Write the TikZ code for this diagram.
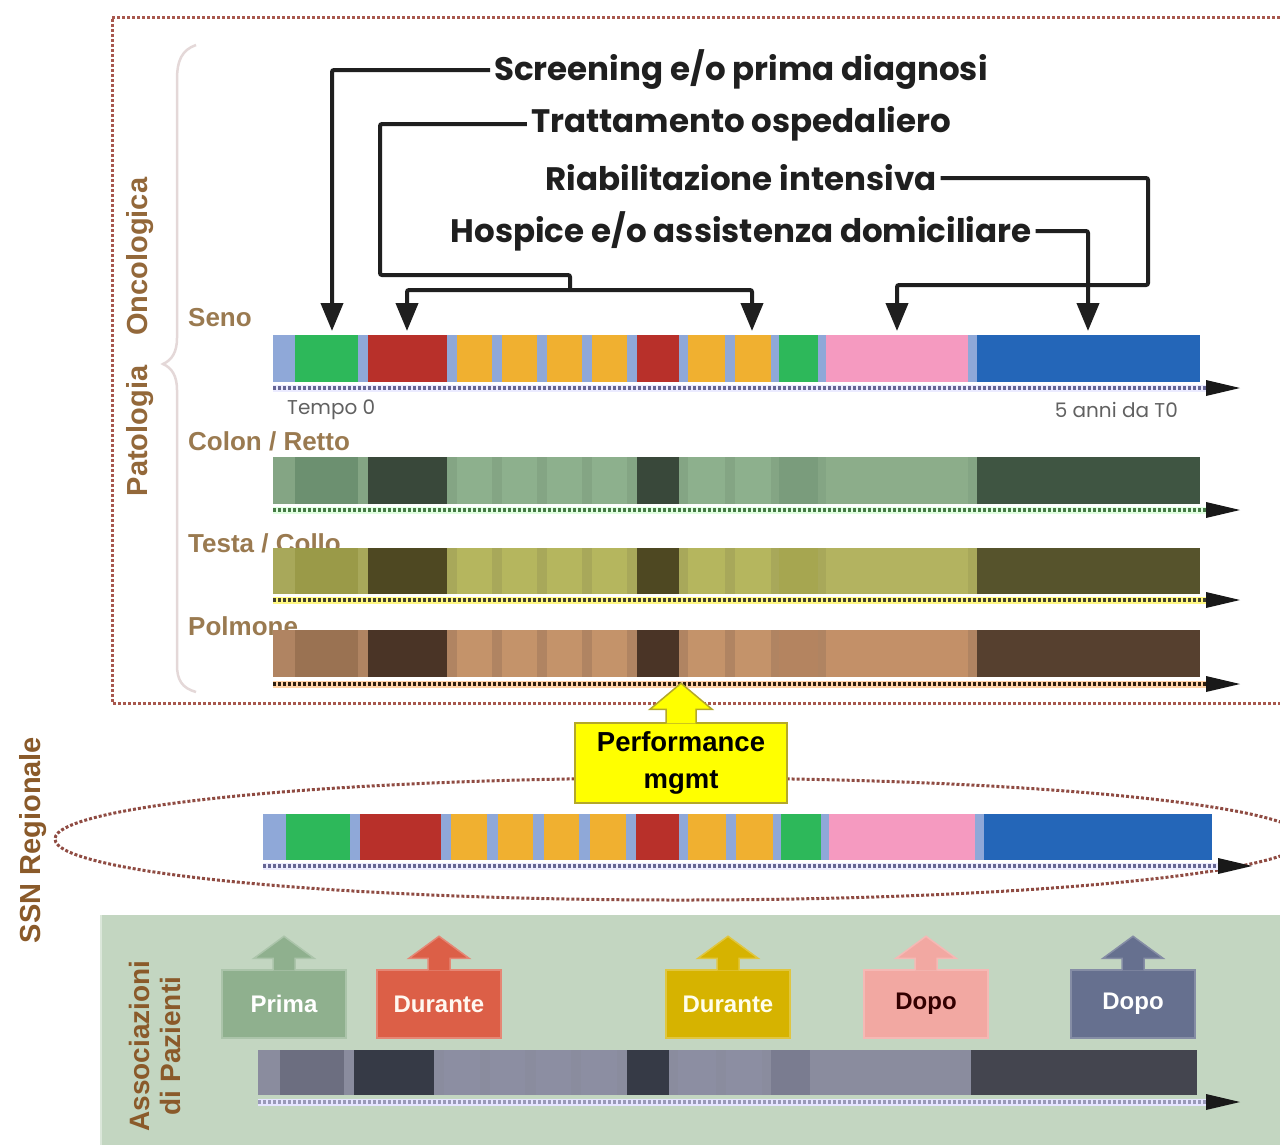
\documentclass[tikz,border=0pt]{standalone}
\usepackage{fontspec}
\setmainfont{Liberation Sans}
\newfontfamily\geofont{Poppins}
\usetikzlibrary{arrows.meta}

% label and frame colours
\definecolor{framered}{HTML}{A8584E}
\definecolor{bracecol}{HTML}{E4D8D8}
\definecolor{rowbrown}{HTML}{9A7A50}
\definecolor{sidebrown}{HTML}{93683A}
\definecolor{ssnbrown}{HTML}{8A5A2A}
\definecolor{panelgreen}{HTML}{C3D6C1}
\definecolor{perfyellow}{HTML}{FFFF00}
\definecolor{perfborder}{HTML}{B4A82A}

% callout colours
\definecolor{cPrima}{HTML}{8FB08E}
\definecolor{cDurA}{HTML}{DC5F47}
\definecolor{cDurB}{HTML}{D6B300}
\definecolor{cDopoA}{HTML}{F2A8A2}
\definecolor{cDopoB}{HTML}{66708F}

% one patient pathway bar: x0, y top, horizontal scale, height
\newcommand\segbar[4]{%
  \begin{scope}[shift={(#1,#2)},xscale=#3]
    \fill[cgap] (0,0) rectangle (927,#4);
    \fill[cscr] (22,0) rectangle (85,#4);
    \fill[ctrt] (95,0) rectangle (174,#4);
    \foreach \a/\b in {184/219,229/264,274/309,319/354,415/452,462/498}
      \fill[cche] (\a,0) rectangle (\b,#4);
    \fill[ctrt] (364,0) rectangle (406,#4);
    \fill[cscr2] (506,0) rectangle (545,#4);
    \fill[crhb] (553,0) rectangle (695,#4);
    \fill[chos] (704,0) rectangle (927,#4);
  \end{scope}}

% time axis under a bar: name, x start, x tip, y, under colour, dot colour
\newcommand\taxis[6]{%
  \coordinate (#1s) at (#2,#4);
  \coordinate (#1t) at (#3,#4);
  \draw[line width=7pt,#5] (#1s) -- ([xshift=-30pt]#1t);
  \draw[line width=4.5pt,#6,dash pattern=on 2.5pt off 2.5pt] (#1s) -- ([xshift=-30pt]#1t);
  \fill[black!90] (#1t) -- ++(-34,-8) -- ++(0,16) -- cycle;}

% phase callout with an upward arrow: name, x centre, fill, border, text colour, text
\newcommand\callout[6]{%
  \node[callbox, fill=#3, draw=#4, text=#5] (#1) at (#2,1004) {#6};
  \filldraw[fill=#3, draw=#4, line width=1.5pt]
    ([xshift=-11pt,yshift=-1pt]#1.north) -- ++(0,-12) -- ++(-19,0)
    -- ++(30,-22) -- ++(30,22) -- ++(-19,0) -- ++(0,12);}

\begin{document}
\begin{tikzpicture}[x=1pt,y=-1pt,
  toplabel/.style={font=\geofont\bfseries\fontsize{32.5}{34}\selectfont, text=black!88, inner sep=4pt},
  rowlabel/.style={font=\bfseries\fontsize{26}{28}\selectfont, text=rowbrown, anchor=west, inner sep=0pt},
  sidelabel/.style={font=\bfseries\fontsize{29}{32}\selectfont, rotate=90, inner sep=0pt},
  conn/.style={line width=4pt, draw=black!88, rounded corners=2pt},
  downtip/.style={-{Triangle[length=28pt,width=22pt]}},
  timetext/.style={font=\geofont\fontsize{20}{22}\selectfont, text=black!62, inner sep=0pt},
  callbox/.style={minimum width=124pt, minimum height=68pt, inner sep=0pt,
                  font=\bfseries\fontsize{24}{26}\selectfont, line width=1.5pt},
]
\useasboundingbox (0,0) rectangle (1280,1144);
\clip (0,0) rectangle (1280,1144);
\fill[white] (0,0) rectangle (1280,1144);

% ---------- patient associations panel ----------
\fill[panelgreen] (100,915) rectangle (1290,1150);
\draw[panelgreen!60!white, line width=2pt] (101,915) -- (101,1150);

% ---------- oncology pathology frame ----------
\draw[framered, line width=3pt, dotted] (1290,17) -- (112,17) -- (112,703) -- (1290,703);
\draw[bracecol, line width=2.5pt]
  (196,45) .. controls (182,50) and (177,60) .. (177,80) -- (177,338)
  .. controls (177,352) and (172,360) .. (163,364)
  .. controls (172,368) and (177,376) .. (177,390) -- (177,665)
  .. controls (177,680) and (182,688) .. (196,692);
\node[sidelabel, text=sidebrown] (pat) at (140,337) {Patologia\hspace{30pt}Oncologica};

% ---------- row labels ----------
\node[rowlabel] (seno) at (188,318) {Seno};
\node[rowlabel] (colon) at (188,441) {Colon / Retto};
\node[rowlabel] (testa) at (188,543) {Testa / Collo};
\node[rowlabel] (polm) at (188,626) {Polmone};

% ---------- bars ----------
% breast: full colour pathway
\definecolor{cgap}{HTML}{8FA8D8}\definecolor{cscr}{HTML}{2DB85A}\definecolor{ctrt}{HTML}{B8302A}
\definecolor{cche}{HTML}{F0B030}\definecolor{cscr2}{HTML}{2DB85A}\definecolor{crhb}{HTML}{F59AC0}
\definecolor{chos}{HTML}{2466B8}
\segbar{273}{335}{1}{47}
\taxis{axSeno}{273}{1240}{388}{blue!8}{black!70!blue!60}

% colon / rectum: green shades
\definecolor{cgap}{HTML}{84A584}\definecolor{cscr}{HTML}{6C9070}\definecolor{ctrt}{HTML}{39483A}
\definecolor{cche}{HTML}{8DB08D}\definecolor{cscr2}{HTML}{7A9C7C}\definecolor{crhb}{HTML}{8CAD8A}
\definecolor{chos}{HTML}{3F5542}
\segbar{273}{457}{1}{47}
\taxis{axColon}{273}{1240}{510}{green!12!white}{black!55!green!45!gray}

% head / neck: olive shades
\definecolor{cgap}{HTML}{A8A85A}\definecolor{cscr}{HTML}{9A9A48}\definecolor{ctrt}{HTML}{4E4822}
\definecolor{cche}{HTML}{B5B65E}\definecolor{cscr2}{HTML}{A6A650}\definecolor{crhb}{HTML}{B3B360}
\definecolor{chos}{HTML}{56532C}
\segbar{273}{548}{1}{46}
\taxis{axTesta}{273}{1240}{600}{yellow!50!white}{black!70!olive}

% lung: brown shades
\definecolor{cgap}{HTML}{B08462}\definecolor{cscr}{HTML}{9A7252}\definecolor{ctrt}{HTML}{4A3426}
\definecolor{cche}{HTML}{C4936A}\definecolor{cscr2}{HTML}{B48460}\definecolor{crhb}{HTML}{C39068}
\definecolor{chos}{HTML}{56402F}
\segbar{273}{630}{1}{47}
\taxis{axPolm}{273}{1240}{684}{orange!35!white}{black!75!brown}

% time marks
\node[timetext, anchor=west] (t0) at (287,410) {Tempo 0};
\node[timetext, anchor=east] (t5) at (1178,410) {5 anni da T0};

% ---------- phase labels and their pointers ----------
\node[toplabel] (lScr) at (741,70) {Screening e/o prima diagnosi};
\node[toplabel] (lTrt) at (741,124) {Trattamento ospedaliero};
\node[toplabel] (lRhb) at (741,178) {Riabilitazione intensiva};
\node[toplabel] (lHos) at (741,231) {Hospice e/o assistenza domiciliare};

\coordinate (pScr) at (332,331);
\coordinate (pTrtA) at (407,331);
\coordinate (pTrtB) at (752,331);
\coordinate (pRhb) at (897,331);
\coordinate (pHos) at (1088,331);

\draw[conn, downtip] (lScr.west) -| (pScr);
\draw[conn] (lTrt.west) -| (380,275) -| (570,291);
\draw[conn, {Triangle[length=28pt,width=22pt]}-{Triangle[length=28pt,width=22pt]}]
  (pTrtA) |- (570,290) -| (pTrtB);
\draw[conn, downtip] (lRhb.east) -| (1148,285) -| (pRhb);
\draw[conn, downtip] (lHos.east) -| (pHos);

% ---------- regional health service ----------
\node[sidelabel, text=ssnbrown] (ssn) at (33,840) {SSN Regionale};
\draw[framered!85!black, line width=3pt, dotted] (680,839) ellipse [x radius=625pt, y radius=61pt];

\definecolor{cgap}{HTML}{8FA8D8}\definecolor{cscr}{HTML}{2DB85A}\definecolor{ctrt}{HTML}{B8302A}
\definecolor{cche}{HTML}{F0B030}\definecolor{cscr2}{HTML}{2DB85A}\definecolor{crhb}{HTML}{F59AC0}
\definecolor{chos}{HTML}{2466B8}
\segbar{263}{814}{1.024}{46}
\taxis{axSSN}{263}{1252}{866}{blue!8}{black!70!blue!60}

\node[draw=perfborder, fill=perfyellow, line width=1.5pt, minimum width=212pt, minimum height=80pt,
      align=center, font=\bfseries\fontsize{27.5}{37}\selectfont] (perf) at (681,763) {Performance\\mgmt};
\filldraw[fill=perfyellow, draw=perfborder, line width=1.5pt]
  ([xshift=-15pt,yshift=-1pt]perf.north) -- ++(0,-14) -- ++(-16,0)
  -- ++(31,-26) -- ++(31,26) -- ++(-16,0) -- ++(0,14);

% ---------- patient associations ----------
\node[sidelabel, text=ssnbrown, align=center, font=\bfseries\fontsize{28}{31}\selectfont]
  (assoc) at (155,1046) {Associazioni\\di Pazienti};

\callout{cA}{284}{cPrima}{cPrima!75!white}{white}{Prima}
\callout{cB}{439}{cDurA}{cDurA!75!white}{white!94!orange}{Durante}
\callout{cC}{728}{cDurB}{cDurB!75!white}{white!92!yellow}{Durante}
\callout{cD}{926}{cDopoA}{cDopoA!80!white}{black!80!red}{Dopo}
\callout{cE}{1133}{cDopoB}{cDopoB!80!white}{white}{Dopo}

\definecolor{cgap}{HTML}{8A8C9E}\definecolor{cscr}{HTML}{6C6E80}\definecolor{ctrt}{HTML}{363A46}
\definecolor{cche}{HTML}{8C8EA2}\definecolor{cscr2}{HTML}{7A7C90}\definecolor{crhb}{HTML}{8A8C9E}
\definecolor{chos}{HTML}{44454F}
\segbar{258}{1050}{1.013}{45}
\taxis{axAssoc}{258}{1240}{1102}{blue!10!white}{black!70!blue!40}
\end{tikzpicture}
\end{document}
